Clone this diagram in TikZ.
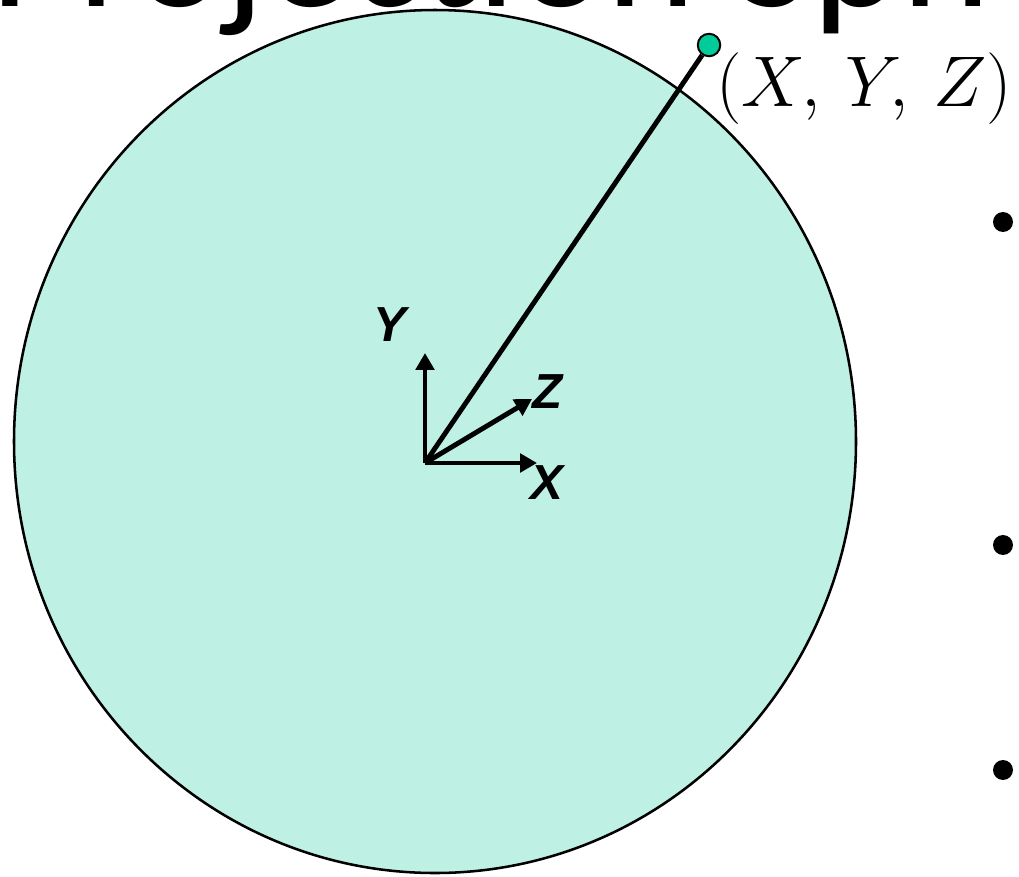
\documentclass[tikz,border=0pt]{standalone}
\usepackage{fontspec}
\usepackage{amsmath}
\usetikzlibrary{positioning,arrows.meta}
\newfontfamily\titlefont{Carlito}
\newfontfamily\axisfont{Liberation Sans}
\definecolor{spherecol}{RGB}{190,240,227}
\definecolor{pointcol}{RGB}{0,204,153}

\begin{document}
\begin{tikzpicture}[x=0.025cm, y=-0.025cm,
  ax/.style={-{Triangle[length=12pt, width=13pt]}, line width=3.5pt},
  lb/.style={font=\axisfont\bfseries\itshape\fontsize{35}{40}\selectfont, inner sep=0},
  bul/.style={circle, fill=black, inner sep=0, minimum size=14.2pt}
]
\useasboundingbox (0,0) rectangle (1019,876);
\clip (0,0) rectangle (1019,876);

% title, cut off by the frame
\node[anchor=base west, inner sep=0, font=\titlefont\fontsize{121}{130}\selectfont]
  (title) at (-10, 6) {Projection Sph};

% sphere
\draw[fill=spherecol, line width=1.8pt] (435,441.5) ellipse [x radius=421, y radius=431.5];

% camera axes
\coordinate (o) at (425,463);
\coordinate (ytip) at (425,353);
\coordinate (xtip) at (537,463);
\coordinate (ztip) at (532,399);
\draw[ax] (o) -- (ytip);
\draw[ax] (o) -- (xtip);
\draw[ax] (o) -- (ztip);
\node[lb] (ylb) at (390,325) {Y};
\node[lb] (zlb) at (548,392) {Z};
\node[lb] (xlb) at (547,483) {X};

% scene point and its ray
\node[circle, draw=black, line width=1.4pt, fill=pointcol, inner sep=0,
      minimum size=16pt] (pt) at (709,45) {};
\draw[line width=3.5pt] (o) -- (pt);
\node[anchor=west, inner sep=0, font=\Huge, scale=2.05, transform shape]
  (ptlb) at (716,89) {$(X,\,Y,\,Z)$};

% bullets of the list beside
\node[bul] (b1) at (1003,222) {};
\node[bul] (b2) at (1003,545) {};
\node[bul] (b3) at (1003,770) {};
\end{tikzpicture}
\end{document}
